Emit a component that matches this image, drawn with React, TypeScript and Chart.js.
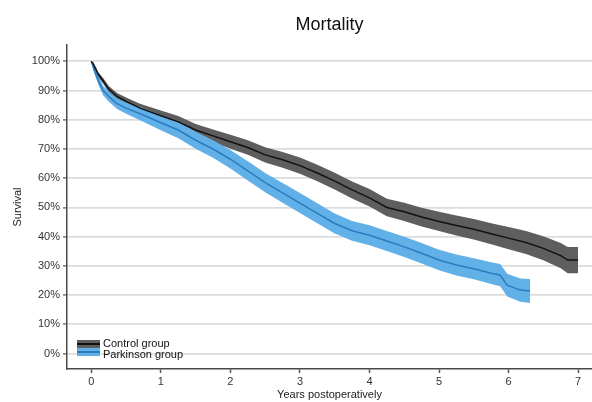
import { useEffect, useRef } from "react";
import { Chart, registerables } from "chart.js";

Chart.register(...registerables);

const FONT = "'Liberation Sans', Arial, Helvetica, sans-serif";

// Years postoperatively / survival (%)
const controlYears = [0, 0.03, 0.1, 0.17, 0.25, 0.37, 0.5, 0.7, 1, 1.25, 1.5, 1.75, 2, 2.25, 2.5, 2.75, 3, 3.25, 3.5, 3.75, 4, 4.25, 4.5, 4.75, 5, 5.25, 5.5, 5.75, 6, 6.25, 6.5, 6.75, 6.85, 7];
const controlSurvival = [100, 99, 95.5, 93.3, 90.5, 88, 86.3, 84, 81.4, 79.3, 76.5, 74.5, 72.5, 70.5, 68, 66.3, 64.3, 61.8, 59, 56, 53.3, 50, 48.5, 46.7, 45.2, 43.8, 42.5, 41, 39.5, 38, 36, 33.5, 32, 32];
const controlUpper = [100, 99.6, 96.4, 94.3, 91.6, 89.2, 87.6, 85.5, 83.2, 81.3, 78.6, 76.7, 74.9, 73.0, 70.6, 69.0, 67.1, 64.6, 61.9, 58.9, 56.3, 53.0, 51.6, 49.9, 48.5, 47.2, 46.0, 44.6, 43.3, 41.9, 40.1, 37.8, 36.5, 36.5];
const controlLower = [100, 98.4, 94.6, 92.3, 89.4, 86.8, 85.0, 82.5, 79.6, 77.3, 74.4, 72.3, 70.1, 68.0, 65.4, 63.6, 61.5, 59.0, 56.1, 53.1, 50.3, 47.0, 45.4, 43.5, 41.9, 40.4, 39.0, 37.4, 35.7, 34.1, 31.9, 29.2, 27.5, 27.5];

const parkinsonYears = [0, 0.03, 0.1, 0.17, 0.25, 0.37, 0.5, 0.73, 1, 1.25, 1.5, 1.75, 2, 2.25, 2.5, 2.75, 3, 3.25, 3.5, 3.75, 4, 4.25, 4.5, 4.75, 5, 5.25, 5.5, 5.75, 5.88, 5.98, 6.17, 6.31];
const parkinsonSurvival = [100, 97.8, 93.5, 90, 88, 85.5, 84, 81.8, 79, 76.5, 73, 70, 66.5, 62.5, 58.5, 55, 51.5, 48, 44.5, 42, 40.5, 38.5, 36.5, 34.3, 32, 30.3, 29, 27.5, 26.8, 23.4, 21.7, 21.4];
const parkinsonUpper = [100, 98.8, 94.9, 91.6, 89.7, 87.3, 85.9, 84.1, 81.6, 79.3, 75.9, 73.0, 69.7, 65.8, 61.8, 58.4, 54.9, 51.4, 47.9, 45.4, 43.9, 41.9, 40.0, 37.8, 35.5, 33.9, 32.6, 31.2, 30.6, 27.3, 25.7, 25.5];
const parkinsonLower = [100, 96.8, 92.1, 88.4, 86.3, 83.7, 82.1, 79.5, 76.4, 73.7, 70.1, 67.0, 63.3, 59.2, 55.2, 51.6, 48.1, 44.6, 41.1, 38.6, 37.1, 35.1, 33.0, 30.8, 28.5, 26.7, 25.4, 23.8, 23.0, 19.5, 17.7, 17.3];

const seriesLabels = ["Control group", "Parkinson group"];
const chartTitle = "Mortality";
const xTitle = "Years postoperatively";
const yTitle = "Survival";

const CONTROL_BAND = "#5e5e5e";
const CONTROL_LINE = "#111111";
const PARK_BAND = "#62b0e8";
const PARK_LINE = "#2a7cc0";

const pts = (xs: number[], ys: number[]) => xs.map((x, i) => ({ x, y: ys[i] }));

const legendPlugin = {
  id: "kmLegend",
  afterDatasetsDraw(chart: any) {
    const ctx = chart.ctx as CanvasRenderingContext2D;
    const { left, bottom } = chart.chartArea;
    const entries = [
      { label: seriesLabels[0], band: CONTROL_BAND, line: CONTROL_LINE },
      { label: seriesLabels[1], band: PARK_BAND, line: PARK_LINE },
    ];
    const bx = left + 10;
    const bw = 23;
    const bh = 8;
    const by = bottom - 29;
    ctx.save();
    entries.forEach((e, i) => {
      const y = by + i * bh;
      ctx.fillStyle = e.band;
      ctx.fillRect(bx, y, bw, bh);
      ctx.fillStyle = e.line;
      ctx.fillRect(bx, y + 3, bw, 2);
    });
    ctx.fillStyle = "#111";
    ctx.font = `11px ${FONT}`;
    ctx.textAlign = "left";
    ctx.textBaseline = "middle";
    ctx.fillText(entries[0].label, bx + bw + 3, by + 4);
    ctx.fillText(entries[1].label, bx + bw + 3, by + 14.5);
    ctx.restore();
  },
};

export default function App() {
  const ref = useRef<HTMLCanvasElement | null>(null);

  useEffect(() => {
    if (!ref.current) return;
    const chart = new Chart(ref.current, {
      type: "line",
      data: {
        datasets: [
          {
            label: "Control upper",
            data: pts(controlYears, controlUpper),
            borderWidth: 0,
            pointRadius: 0,
            backgroundColor: CONTROL_BAND,
            fill: "+1",
            order: 4,
          },
          {
            label: "Control lower",
            data: pts(controlYears, controlLower),
            borderWidth: 0,
            pointRadius: 0,
            fill: false,
            order: 4,
          },
          {
            label: "Parkinson upper",
            data: pts(parkinsonYears, parkinsonUpper),
            borderWidth: 0,
            pointRadius: 0,
            backgroundColor: PARK_BAND,
            fill: "+1",
            order: 3,
          },
          {
            label: "Parkinson lower",
            data: pts(parkinsonYears, parkinsonLower),
            borderWidth: 0,
            pointRadius: 0,
            fill: false,
            order: 3,
          },
          {
            label: seriesLabels[1],
            data: pts(parkinsonYears, parkinsonSurvival),
            borderColor: PARK_LINE,
            borderWidth: 1.5,
            pointRadius: 0,
            fill: false,
            order: 2,
          },
          {
            label: seriesLabels[0],
            data: pts(controlYears, controlSurvival),
            borderColor: CONTROL_LINE,
            borderWidth: 1.5,
            pointRadius: 0,
            fill: false,
            order: 1,
          },
        ],
      },
      options: {
        responsive: false,
        animation: false,
        devicePixelRatio: 1,
        layout: { padding: 0 },
        elements: { line: { tension: 0 } },
        plugins: {
          legend: { display: false },
          tooltip: { enabled: false },
          title: {
            display: true,
            text: chartTitle,
            fullSize: false,
            color: "#111",
            font: { family: FONT, size: 18, weight: "normal" },
            padding: { top: 14, bottom: 9.4 },
          },
        },
        scales: {
          x: {
            type: "linear",
            min: -0.35,
            max: 7.2,
            afterFit: (s: any) => {
              s.height = 33;
            },
            ticks: {
              stepSize: 1,
              includeBounds: false,
              maxRotation: 0,
              padding: 2,
              color: "#333",
              font: { family: FONT, size: 11 },
            },
            grid: {
              drawOnChartArea: false,
              tickLength: 4,
              tickColor: "#555",
              tickWidth: 1.5,
            },
            border: { color: "#4a4a4a", width: 1.5 },
            title: {
              display: true,
              text: xTitle,
              color: "#222",
              font: { family: FONT, size: 11 },
              padding: 0,
            },
          },
          y: {
            type: "linear",
            min: -5.3,
            max: 105.6,
            afterFit: (s: any) => {
              s.width = 67;
            },
            ticks: {
              stepSize: 10,
              includeBounds: false,
              padding: 3,
              color: "#333",
              font: { family: FONT, size: 11 },
              callback: (v: any) => `${v}%`,
            },
            grid: {
              color: "#dcdcdc",
              lineWidth: 1.8,
              tickLength: 4,
              tickColor: "#555",
              tickWidth: 1.2,
            },
            border: { color: "#4a4a4a", width: 1.5 },
            title: {
              display: true,
              text: yTitle,
              color: "#222",
              font: { family: FONT, size: 11 },
              padding: { top: 11.4, bottom: 0 },
            },
          },
        },
      },
      plugins: [legendPlugin],
    } as any);
    return () => chart.destroy();
  }, []);

  return (
    <div style={{ position: "fixed", left: 0, top: 0, width: 592, height: 402, background: "#fff" }}>
      <canvas ref={ref} width={592} height={402} />
    </div>
  );
}
